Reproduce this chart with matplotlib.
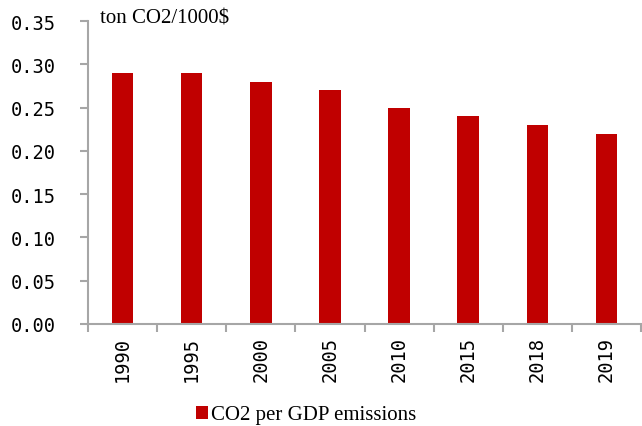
import matplotlib.pyplot as plt
import numpy as np

years = ["1990", "1995", "2000", "2005", "2010", "2015", "2018", "2019"]
co2_per_gdp = [0.29, 0.29, 0.28, 0.27, 0.25, 0.24, 0.23, 0.22]

bar_color = "#C00000"
axis_color = "#A6A6A6"

fig = plt.figure(figsize=(6.42, 4.27), dpi=100)
ax = fig.add_axes([88 / 642, 1 - 325 / 427, 553 / 642, 303 / 427])

x = np.arange(len(years))
ax.bar(x, co2_per_gdp, width=0.31, color=bar_color, label="CO2 per GDP emissions")

ax.set_xlim(-0.5, len(years) - 0.5)
ax.set_ylim(0, 0.35)
yt = np.arange(0, 0.351, 0.05)
ax.set_yticks(yt)
ax.set_yticklabels([f"{v:.2f}" for v in yt], family="DejaVu Sans Mono", fontsize=13.5)

ax.set_xticks(x)
ax.set_xticklabels(years, rotation=90, family="DejaVu Sans Mono", fontsize=13.5)
ax.set_xticks(np.arange(-0.5, len(years), 1), minor=True)
ax.tick_params(axis="x", which="major", length=0, pad=9)
ax.tick_params(axis="x", which="minor", length=6, width=1.5, color=axis_color)
ax.tick_params(axis="y", length=6, width=1.5, color=axis_color, pad=17.5)

for side in ["top", "right"]:
    ax.spines[side].set_visible(False)
for side in ["left", "bottom"]:
    ax.spines[side].set_color(axis_color)
    ax.spines[side].set_linewidth(1.5)

ax.text(100 / 642, 1 - 19 / 427, "ton CO2/1000$", transform=fig.transFigure,
        family="Liberation Serif", fontsize=15, va="center", ha="left")

fig.legend(loc="center", bbox_to_anchor=(306 / 642, 1 - 416 / 427), frameon=False,
           prop={"family": "Liberation Serif", "size": 15},
           handlelength=0.6, handleheight=0.6, handletextpad=0.15)

fig.savefig("out.png", dpi=100)
